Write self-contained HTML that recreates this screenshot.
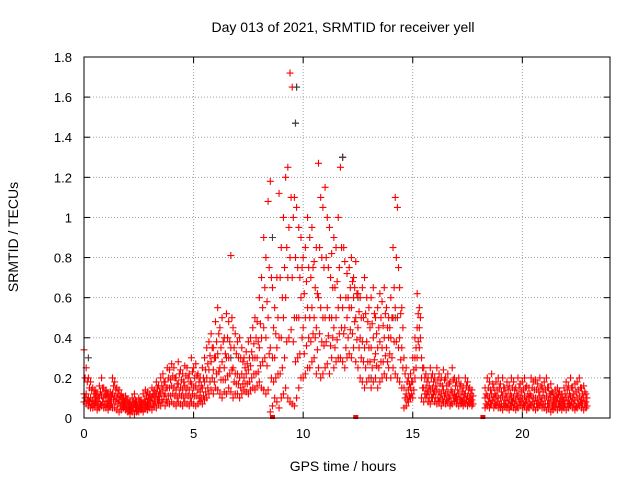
<!DOCTYPE html>
<html><head><meta charset="utf-8"><style>
html,body{margin:0;padding:0;background:#fff}
svg{display:block;font-family:"Liberation Sans",sans-serif}
</style></head><body>
<svg id="chart" width="640" height="480" viewBox="0 0 640 480">
<rect width="640" height="480" fill="#fff"/>
<text x="343" y="32" font-size="14" text-anchor="middle">Day 013 of 2021, SRMTID for receiver yell</text>
<text x="343" y="471" font-size="14" text-anchor="middle">GPS time / hours</text>
<text transform="translate(18,237) rotate(-90)" font-size="14" text-anchor="middle">SRMTID / TECUs</text>
<g id="grid"></g>
<g id="ticks"></g>
<g id="marks"></g>
<rect x="84" y="57" width="526" height="361" fill="none" stroke="#000" stroke-width="1"/>
</svg>
<script>
const xTicks=[0,5,10,15,20];
const yTicks=[0,0.2,0.4,0.6,0.8,1,1.2,1.4,1.6,1.8];
const yTickLabels=["0","0.2","0.4","0.6","0.8","1","1.2","1.4","1.6","1.8"];
const tStart=0, tStep=0.1, tHalf=0.05;
const hi=[0.34,0.25,0.2,0.18,0.15,0.14,0.12,0.16,0.2,0.15,
0.14,0.12,0.13,0.2,0.18,0.15,0.14,0.12,0.1,0.11,
0.09,0.08,0.1,0.12,0.08,0.1,0.09,0.12,0.14,0.13,
0.12,0.15,0.14,0.18,0.16,0.2,0.22,0.18,0.25,0.24,
0.27,0.25,0.2,0.28,0.24,0.22,0.26,0.25,0.22,0.3,
0.25,0.27,0.22,0.2,0.25,0.3,0.35,0.38,0.42,0.35,
0.48,0.55,0.45,0.5,0.4,0.52,0.48,0.81,0.45,0.42,
0.38,0.4,0.35,0.3,0.33,0.38,0.4,0.45,0.5,0.48,
0.6,0.7,0.9,0.8,1.08,1.18,0.65,0.55,0.7,1.12,
0.85,1.0,1.2,1.25,1.72,1.65,1.1,1.05,0.95,0.9,
0.8,0.85,1.0,0.9,0.95,0.78,0.85,1.27,1.1,1.05,
1.15,1.0,0.95,0.82,0.9,0.85,1.0,1.25,1.3,0.78,
0.72,0.75,0.8,0.7,0.78,0.62,0.6,0.65,0.7,0.6,
0.55,0.6,0.65,0.5,0.55,0.62,0.58,0.65,0.55,0.5,
0.6,0.85,1.1,1.05,0.65,0.55,0.3,0.25,0.2,0.22,
0.3,0.4,0.62,0.55,0.3,0.25,0.22,0.2,0.25,0.22,
0.2,0.25,0.22,0.2,0.24,0.2,0.22,0.18,0.25,0.2,
0.18,0.2,0.17,0.15,0.2,0.18,0.15,0.14,null,null,
null,null,null,0.15,0.2,0.18,0.22,0.15,0.18,0.2,
0.17,0.2,0.15,0.18,0.16,0.2,0.18,0.15,0.2,0.17,
0.18,0.2,0.16,0.15,0.2,0.18,0.19,0.17,0.2,0.16,
0.18,0.2,0.15,0.17,0.12,0.14,0.15,0.13,0.12,0.15,
0.18,0.16,0.2,0.15,0.17,0.18,0.2,0.15,0.16,0.12];
const q2=[0.2,0.18,0.15,0.14,0.12,0.12,0.1,0.13,0.15,0.12,
0.12,0.1,0.11,0.16,0.14,0.12,0.11,0.1,0.08,0.09,
0.07,0.06,0.08,0.09,0.06,0.08,0.07,0.09,0.11,0.1,
0.1,0.12,0.12,0.15,0.13,0.16,0.18,0.15,0.2,0.19,
0.21,0.2,0.17,0.22,0.19,0.18,0.21,0.2,0.18,0.23,
0.2,0.21,0.18,0.16,0.2,0.24,0.27,0.31,0.35,0.3,
0.38,0.42,0.35,0.38,0.32,0.4,0.38,0.5,0.35,0.32,
0.3,0.3,0.28,0.25,0.27,0.3,0.33,0.37,0.4,0.38,
0.47,0.55,0.65,0.58,0.75,0.7,0.45,0.42,0.5,0.7,
0.6,0.75,0.85,0.95,1.1,1.0,0.8,0.75,0.7,0.75,
0.62,0.68,0.75,0.7,0.75,0.65,0.62,0.85,0.8,0.75,
0.8,0.75,0.7,0.65,0.65,0.68,0.75,0.85,0.85,0.6,
0.6,0.65,0.68,0.65,0.62,0.53,0.5,0.5,0.52,0.48,
0.45,0.47,0.52,0.42,0.45,0.5,0.46,0.52,0.45,0.45,
0.5,0.65,0.8,0.75,0.52,0.45,0.22,0.18,0.17,0.18,
0.24,0.35,0.52,0.5,0.25,0.2,0.18,0.16,0.2,0.18,
0.16,0.19,0.17,0.16,0.19,0.16,0.17,0.14,0.19,0.16,
0.14,0.16,0.13,0.12,0.16,0.14,0.12,0.11,null,null,
null,null,null,0.12,0.15,0.14,0.17,0.12,0.14,0.15,
0.13,0.15,0.12,0.14,0.12,0.15,0.14,0.12,0.15,0.13,
0.14,0.15,0.12,0.12,0.15,0.14,0.14,0.13,0.15,0.13,
0.14,0.15,0.12,0.13,0.1,0.11,0.12,0.1,0.1,0.12,
0.14,0.12,0.15,0.12,0.13,0.14,0.15,0.12,0.13,0.1];
const mid=[0.12,0.12,0.1,0.1,0.09,0.1,0.08,0.1,0.11,0.1,
0.1,0.08,0.09,0.12,0.11,0.1,0.09,0.08,0.07,0.07,
0.06,0.05,0.06,0.07,0.05,0.06,0.06,0.07,0.08,0.08,
0.09,0.1,0.1,0.12,0.11,0.12,0.14,0.12,0.15,0.15,
0.16,0.15,0.14,0.17,0.15,0.14,0.16,0.15,0.14,0.17,
0.15,0.16,0.14,0.13,0.15,0.18,0.2,0.24,0.28,0.24,
0.3,0.32,0.25,0.28,0.25,0.3,0.3,0.35,0.25,0.22,
0.22,0.2,0.22,0.2,0.22,0.24,0.26,0.3,0.3,0.3,
0.35,0.4,0.45,0.4,0.5,0.35,0.3,0.3,0.35,0.4,
0.4,0.5,0.6,0.7,0.8,0.7,0.5,0.5,0.5,0.6,
0.45,0.5,0.55,0.5,0.55,0.5,0.45,0.6,0.55,0.5,
0.5,0.55,0.5,0.5,0.45,0.5,0.55,0.6,0.55,0.45,
0.5,0.55,0.55,0.6,0.5,0.45,0.4,0.38,0.35,0.38,
0.35,0.35,0.4,0.32,0.35,0.38,0.35,0.4,0.35,0.4,
0.4,0.5,0.55,0.5,0.4,0.35,0.15,0.12,0.14,0.15,
0.18,0.3,0.45,0.45,0.2,0.15,0.15,0.13,0.14,0.15,
0.13,0.14,0.13,0.12,0.14,0.12,0.13,0.11,0.13,0.12,
0.11,0.12,0.1,0.1,0.12,0.11,0.1,0.09,null,null,
null,null,null,0.1,0.11,0.1,0.12,0.1,0.11,0.1,
0.1,0.11,0.09,0.1,0.09,0.11,0.1,0.09,0.11,0.1,
0.1,0.11,0.09,0.1,0.11,0.1,0.1,0.09,0.11,0.1,
0.1,0.11,0.09,0.1,0.08,0.09,0.1,0.08,0.08,0.09,
0.1,0.09,0.11,0.1,0.09,0.1,0.11,0.09,0.1,0.08];
const q1=[0.1,0.09,0.08,0.07,0.07,0.08,0.06,0.07,0.08,0.07,
0.07,0.06,0.07,0.09,0.08,0.07,0.06,0.06,0.06,0.05,
0.04,0.04,0.05,0.05,0.04,0.05,0.05,0.05,0.06,0.06,
0.07,0.07,0.08,0.09,0.09,0.09,0.11,0.09,0.11,0.11,
0.12,0.11,0.1,0.12,0.11,0.1,0.12,0.11,0.1,0.12,
0.11,0.11,0.1,0.1,0.11,0.13,0.15,0.18,0.2,0.18,
0.22,0.23,0.19,0.19,0.19,0.21,0.22,0.24,0.18,0.17,
0.17,0.15,0.17,0.17,0.17,0.18,0.2,0.22,0.22,0.23,
0.26,0.28,0.3,0.26,0.32,0.2,0.18,0.2,0.22,0.22,
0.25,0.3,0.38,0.4,0.44,0.38,0.28,0.3,0.32,0.4,
0.32,0.36,0.4,0.38,0.42,0.4,0.34,0.42,0.38,0.36,
0.38,0.41,0.36,0.4,0.35,0.39,0.42,0.45,0.42,0.35,
0.4,0.44,0.42,0.48,0.39,0.35,0.3,0.28,0.25,0.28,
0.28,0.25,0.29,0.26,0.25,0.28,0.28,0.31,0.28,0.32,
0.3,0.38,0.38,0.35,0.29,0.25,0.1,0.09,0.11,0.12,
0.14,0.25,0.38,0.4,0.15,0.12,0.12,0.1,0.1,0.12,
0.1,0.1,0.1,0.09,0.11,0.09,0.1,0.08,0.1,0.1,
0.09,0.09,0.08,0.08,0.09,0.08,0.08,0.07,null,null,
null,null,null,0.07,0.08,0.07,0.09,0.07,0.08,0.07,
0.07,0.07,0.07,0.07,0.06,0.08,0.07,0.06,0.08,0.08,
0.07,0.08,0.06,0.07,0.08,0.07,0.07,0.07,0.08,0.07,
0.07,0.07,0.07,0.06,0.06,0.07,0.07,0.06,0.06,0.07,
0.07,0.07,0.08,0.07,0.06,0.07,0.08,0.07,0.07,0.06];
const lo=[0.08,0.07,0.06,0.05,0.05,0.06,0.04,0.05,0.06,0.05,
0.05,0.04,0.06,0.05,0.05,0.04,0.03,0.04,0.05,0.04,
0.03,0.02,0.03,0.02,0.03,0.03,0.04,0.03,0.05,0.04,
0.05,0.04,0.06,0.05,0.07,0.06,0.08,0.06,0.08,0.07,
0.08,0.07,0.06,0.08,0.07,0.06,0.08,0.07,0.06,0.08,
0.07,0.06,0.07,0.08,0.07,0.09,0.1,0.12,0.14,0.12,
0.15,0.14,0.12,0.1,0.13,0.12,0.15,0.13,0.1,0.12,
0.12,0.1,0.12,0.14,0.13,0.12,0.14,0.15,0.14,0.16,
0.18,0.15,0.14,0.12,0.14,0.03,0.06,0.1,0.08,0.05,
0.1,0.12,0.15,0.1,0.08,0.07,0.06,0.1,0.15,0.2,
0.2,0.22,0.25,0.25,0.28,0.3,0.22,0.25,0.2,0.22,
0.25,0.27,0.22,0.3,0.25,0.28,0.3,0.3,0.28,0.25,
0.3,0.32,0.3,0.35,0.28,0.25,0.2,0.18,0.15,0.18,
0.2,0.15,0.18,0.2,0.15,0.18,0.2,0.22,0.2,0.25,
0.2,0.25,0.22,0.2,0.18,0.15,0.05,0.06,0.08,0.1,
0.1,0.2,0.3,0.35,0.1,0.08,0.1,0.08,0.07,0.1,
0.08,0.07,0.08,0.06,0.08,0.07,0.08,0.06,0.07,0.08,
0.07,0.06,0.07,0.06,0.07,0.06,0.07,0.06,null,null,
null,null,null,0.05,0.06,0.05,0.07,0.05,0.06,0.05,
0.05,0.04,0.06,0.05,0.04,0.06,0.05,0.04,0.05,0.06,
0.05,0.06,0.04,0.05,0.06,0.05,0.04,0.05,0.06,0.05,
0.05,0.04,0.05,0.03,0.04,0.05,0.04,0.05,0.04,0.05,
0.04,0.05,0.06,0.05,0.04,0.05,0.06,0.05,0.04,0.05];
const grayT=[8.6,9.7,9.65,11.8,12.5,13.1,14.2,19.5,21.3,0.2,6.7];
const grayV=[0.9,1.65,1.47,1.3,0.6,0.2,0.5,0.08,0.12,0.3,0.3];
const zeroT=[8.6,12.4,18.2];
const zeroV=[0,0,0];

const X0=84,X1=610,Y0=418,Y1=57,XMAX=24,YMAX=1.8;
const xs=t=>X0+(X1-X0)*t/XMAX;
const ys=v=>Y0-(Y0-Y1)*v/YMAX;
const NS="http://www.w3.org/2000/svg";
const grid=document.getElementById('grid'),ticks=document.getElementById('ticks'),marks=document.getElementById('marks');
function mk(tag,attrs,parent){const e=document.createElementNS(NS,tag);for(const k in attrs)e.setAttribute(k,attrs[k]);parent.appendChild(e);return e;}
xTicks.forEach(t=>{
  const x=xs(t);
  if(t>0){const g=mk('line',{x1:x,x2:x,y1:Y1,y2:Y0,stroke:'#a0a0a0','stroke-dasharray':'1,2'},grid);
  
  }
  const a=mk('line',{x1:x,x2:x,y1:Y0,y2:Y0-6,stroke:'#000'},ticks);
  
  
  const b=mk('line',{x1:x,x2:x,y1:Y1,y2:Y1+6,stroke:'#000'},ticks);
  
  
  const l=mk('text',{x:x,y:Y0+20,'font-size':13,'text-anchor':'middle'},ticks);l.textContent=String(t);
  
  
});
yTicks.forEach((v,i)=>{
  const y=ys(v);
  if(v>0&&v<YMAX){const g=mk('line',{x1:X0,x2:X1,y1:y,y2:y,stroke:'#a0a0a0','stroke-dasharray':'1,2'},grid);
  
  }
  const a=mk('line',{x1:X0,x2:X0+6,y1:y,y2:y,stroke:'#000'},ticks);
  
  
  const b=mk('line',{x1:X1,x2:X1-6,y1:y,y2:y,stroke:'#000'},ticks);
  
  
  const l=mk('text',{x:X0-12,y:y+5,'font-size':13,'text-anchor':'end'},ticks);l.textContent=yTickLabels[i];
  
  
});
function plus(t,v,color,name){
  const x=xs(t),y=ys(v);
  const p=mk('path',{d:`M${x-3.5},${y}h7M${x},${y-3.5}v7`,stroke:color,'stroke-width':1.1},marks);
  
  
}
grayT.forEach((t,i)=>plus(t,grayV[i],'#404040','point-gray'));
[[lo,0,'point-low'],[q1,tHalf,'point-q1'],[mid,0,'point-mid'],[q2,tHalf,'point-q2'],[hi,0,'point-high']].forEach(s=>{
  const arr=s[0],off=s[1],nm=s[2];
  arr.forEach((v,i)=>{ if(v===null)return; plus(tStart+i*tStep+off,v,'#ff0000',nm); });
});
[[9.7,1.65],[9.65,1.47],[11.8,1.3]].forEach(p=>plus(p[0],p[1],'#404040','point-gray-top'));
zeroT.forEach((t,i)=>{
  const r=mk('rect',{x:xs(t)-2.5,y:ys(zeroV[i])-3,width:5,height:4,fill:'#ff0000'},marks);
  
  
});
</script>
</body></html>
